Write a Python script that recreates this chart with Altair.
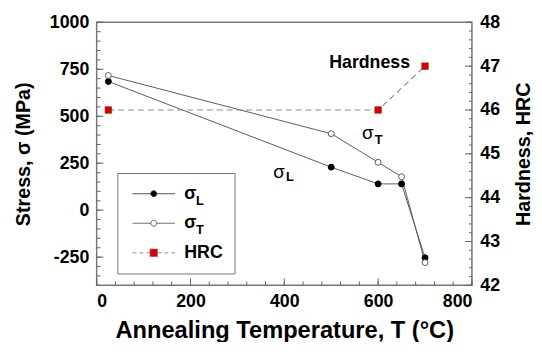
import altair as alt
import pandas as pd

# ---- data ----
temps = [25, 500, 600, 650, 700]
sigma_L = [685, 229, 140, 140, -253]
sigma_T = [717, 407, 255, 178, -279]
hrc_temps = [25, 600, 700]
hrc_values = [46, 46, 47]

x_major = [0, 200, 400, 600, 800]
x_minor = list(range(0, 801, 40))
stress_major = [-250, 0, 250, 500, 750, 1000]
stress_minor = list(range(-400, 1001, 50))
hrc_major = [42, 43, 44, 45, 46, 47, 48]
hrc_minor = [round(42 + 0.2 * i, 1) for i in range(31)]

legend_labels = ["σL", "σT", "HRC"]

# annotations (text, temperature, stress) – in-plot labels and legend subscripts
ann_text = ["σ", "L", "σ", "T", "Hardness", "L", "T"]
ann_x = [389, 412, 578, 601, 668, 220, 220]
ann_y = [203, 177, 413, 371, 785, 48, -108]
ann_kind = ["sig", "sub", "sig", "sub", "word", "sub", "sub"]

# ---- tables ----
stress_df = pd.DataFrame({
    "temp": temps * 2,
    "stress": sigma_L + sigma_T,
    "series": ["σL"] * len(temps) + ["σT"] * len(temps),
})
hrc_df = pd.DataFrame({"temp": hrc_temps, "hrc": hrc_values})
legend_df = pd.DataFrame({"series": legend_labels, "temp": [0, 0, 0], "hrc": [45, 45, 45]})
ann_df = pd.DataFrame({"text": ann_text, "temp": ann_x, "stress": ann_y, "kind": ann_kind})

W, H = 381, 267
FONT = "Liberation Sans"
TICK = "#666666"

xs = alt.Scale(domain=[0, 800], nice=False, zero=False)
ys = alt.Scale(domain=[-400, 1000], nice=False, zero=False)
yh = alt.Scale(domain=[42, 48], nice=False, zero=False)

lab = dict(labelFont=FONT, labelFontSize=18, labelFontWeight="bold", labelColor="black",
           labelExpr="datum.value < 0 ? '-' + format(-datum.value, 'd') : format(datum.value, 'd')")
ttl = dict(titleFont=FONT, titleFontWeight="bold", titleColor="black")

lines = alt.Chart(stress_df).mark_line(color="#5a5a5a", strokeWidth=1).encode(
    x=alt.X("temp:Q", scale=xs, axis=alt.Axis(
        orient="bottom", values=x_major, ticks=False, tickSize=0, domain=False, grid=False,
        labelPadding=7, title="Annealing Temperature, T (°C)", titleFontSize=24, titlePadding=9,
        **lab, **ttl)),
    y=alt.Y("stress:Q", scale=ys, axis=alt.Axis(
        orient="left", values=stress_major, ticks=False, tickSize=0, domain=False, grid=False,
        labelPadding=8, title="Stress, σ (MPa)", titleFontSize=20, titlePadding=16, **lab, **ttl)),
    detail="series:N",
)

pts_L = alt.Chart(stress_df).transform_filter(alt.datum.series == "σL").mark_point(
    shape="circle", filled=True, fill="black", stroke="black", strokeWidth=1, size=36, opacity=1
).encode(
    x=alt.X("temp:Q", scale=xs, axis=None),
    y=alt.Y("stress:Q", scale=ys, axis=None),
)

pts_T = alt.Chart(stress_df).transform_filter(alt.datum.series == "σT").mark_point(
    shape="circle", filled=True, fill="white", stroke="#5a5a5a", strokeWidth=1, size=36, opacity=1
).encode(
    x=alt.X("temp:Q", scale=xs, axis=None),
    y=alt.Y("stress:Q", scale=ys, axis=None),
)

hrc_line = alt.Chart(hrc_df).mark_line(color="#8c8c8c", strokeWidth=1.2, strokeDash=[6, 4]).encode(
    x=alt.X("temp:Q", scale=xs, axis=None),
    y=alt.Y("hrc:Q", scale=yh, axis=alt.Axis(
        orient="right", values=hrc_major, ticks=False, tickSize=0, domain=False, grid=False,
        labelPadding=8, title="Hardness, HRC", titleFontSize=20, titleAngle=270,
        titleBaseline="top", titlePadding=14, **lab, **ttl)),
)

hrc_pts = alt.Chart(hrc_df).mark_point(
    shape="square", filled=True, fill="#d40000", stroke="#a00000", strokeWidth=0.5, size=45, opacity=1
).encode(
    x=alt.X("temp:Q", scale=xs, axis=None),
    y=alt.Y("hrc:Q", scale=yh, axis=None),
)


# inward-pointing axis ticks, placed through the scales from the tick arrays
def x_ticks(values, length):
    return alt.Chart(pd.DataFrame({"v": values})).mark_rule(color=TICK, strokeWidth=1, opacity=1).encode(
        x=alt.X("v:Q", scale=xs, axis=None), y=alt.value(H), y2=alt.value(H - length))


def y_ticks(values, scale, side, length):
    x0 = 0 if side == "left" else W
    x1 = length if side == "left" else W - length
    return alt.Chart(pd.DataFrame({"v": values})).mark_rule(color=TICK, strokeWidth=1, opacity=1).encode(
        y=alt.Y("v:Q", scale=scale, axis=None), x=alt.value(x0), x2=alt.value(x1))


tick_layers = [
    x_ticks(x_minor, 4), x_ticks(x_major, 7),
    y_ticks(stress_minor, ys, "left", 4), y_ticks(stress_major, ys, "left", 7),
    y_ticks(hrc_minor, yh, "right", 3), y_ticks(hrc_major, yh, "right", 7),
]

# legend symbols: a short line with the marker in its middle
path_c = "M-7.2,0L-1,0M1,0L7.2,0M-1,0A1,1,0,1,0,1,0A1,1,0,1,0,-1,0Z"
path_s = "M-7.2,0L-1.3,0M1.3,0L7.2,0M-1.3,-1.3L1.3,-1.3L1.3,1.3L-1.3,1.3Z"

leg_common = dict(orient="none", legendX=21, legendY=153, title=None, direction="vertical",
                  labelExpr="datum.label == 'HRC' ? 'HRC' : 'σ'",
                  labelFont=FONT, labelFontSize=18, labelFontWeight="bold", labelColor="black",
                  symbolSize=36, symbolOffset=16, labelOffset=22, padding=12, rowPadding=12,
                  strokeColor="#777777", symbolStrokeWidth=1, symbolOpacity=1)

legend_layer = alt.Chart(legend_df).transform_filter("false").mark_point(filled=True, opacity=1).encode(
    x=alt.X("temp:Q", scale=xs, axis=None),
    y=alt.Y("hrc:Q", scale=yh, axis=None),
    shape=alt.Shape("series:N", scale=alt.Scale(domain=legend_labels, range=[path_c, path_c, path_s]),
                    legend=alt.Legend(**leg_common)),
    fill=alt.Fill("series:N", scale=alt.Scale(domain=legend_labels, range=["black", "white", "#d40000"]),
                  legend=alt.Legend(**leg_common)),
    stroke=alt.Stroke("series:N", scale=alt.Scale(domain=legend_labels, range=["#333333", "#5a5a5a", "#8c8c8c"]),
                      legend=alt.Legend(**leg_common)),
    strokeDash=alt.StrokeDash("series:N", scale=alt.Scale(domain=legend_labels, range=[[1, 0], [1, 0], [4, 3]]),
                              legend=alt.Legend(**leg_common)),
)


def ann(kind, size, weight):
    return alt.Chart(ann_df).transform_filter(alt.datum.kind == kind).mark_text(
        font=FONT, fontSize=size, fontWeight=weight, color="black",
        align="right" if kind == "word" else "center", baseline="middle"
    ).encode(
        x=alt.X("temp:Q", scale=xs, axis=None),
        y=alt.Y("stress:Q", scale=ys, axis=None),
        text="text:N",
    )


chart = alt.layer(
    lines, hrc_line, *tick_layers, pts_L, pts_T, hrc_pts,
    ann("sig", 19, "normal"), ann("word", 18, "bold"),
    legend_layer, ann("sub", 13, "bold"),
).resolve_scale(y="independent").resolve_axis(x="independent", y="independent").properties(
    width=W, height=H,
    autosize=alt.AutoSizeParams(type="none"),
    padding={"left": 90, "top": 12, "right": 63, "bottom": 55},
).configure_view(stroke="#777777", strokeWidth=1.5)

chart.save("out.html", embed_options={"renderer": "svg", "actions": False})
